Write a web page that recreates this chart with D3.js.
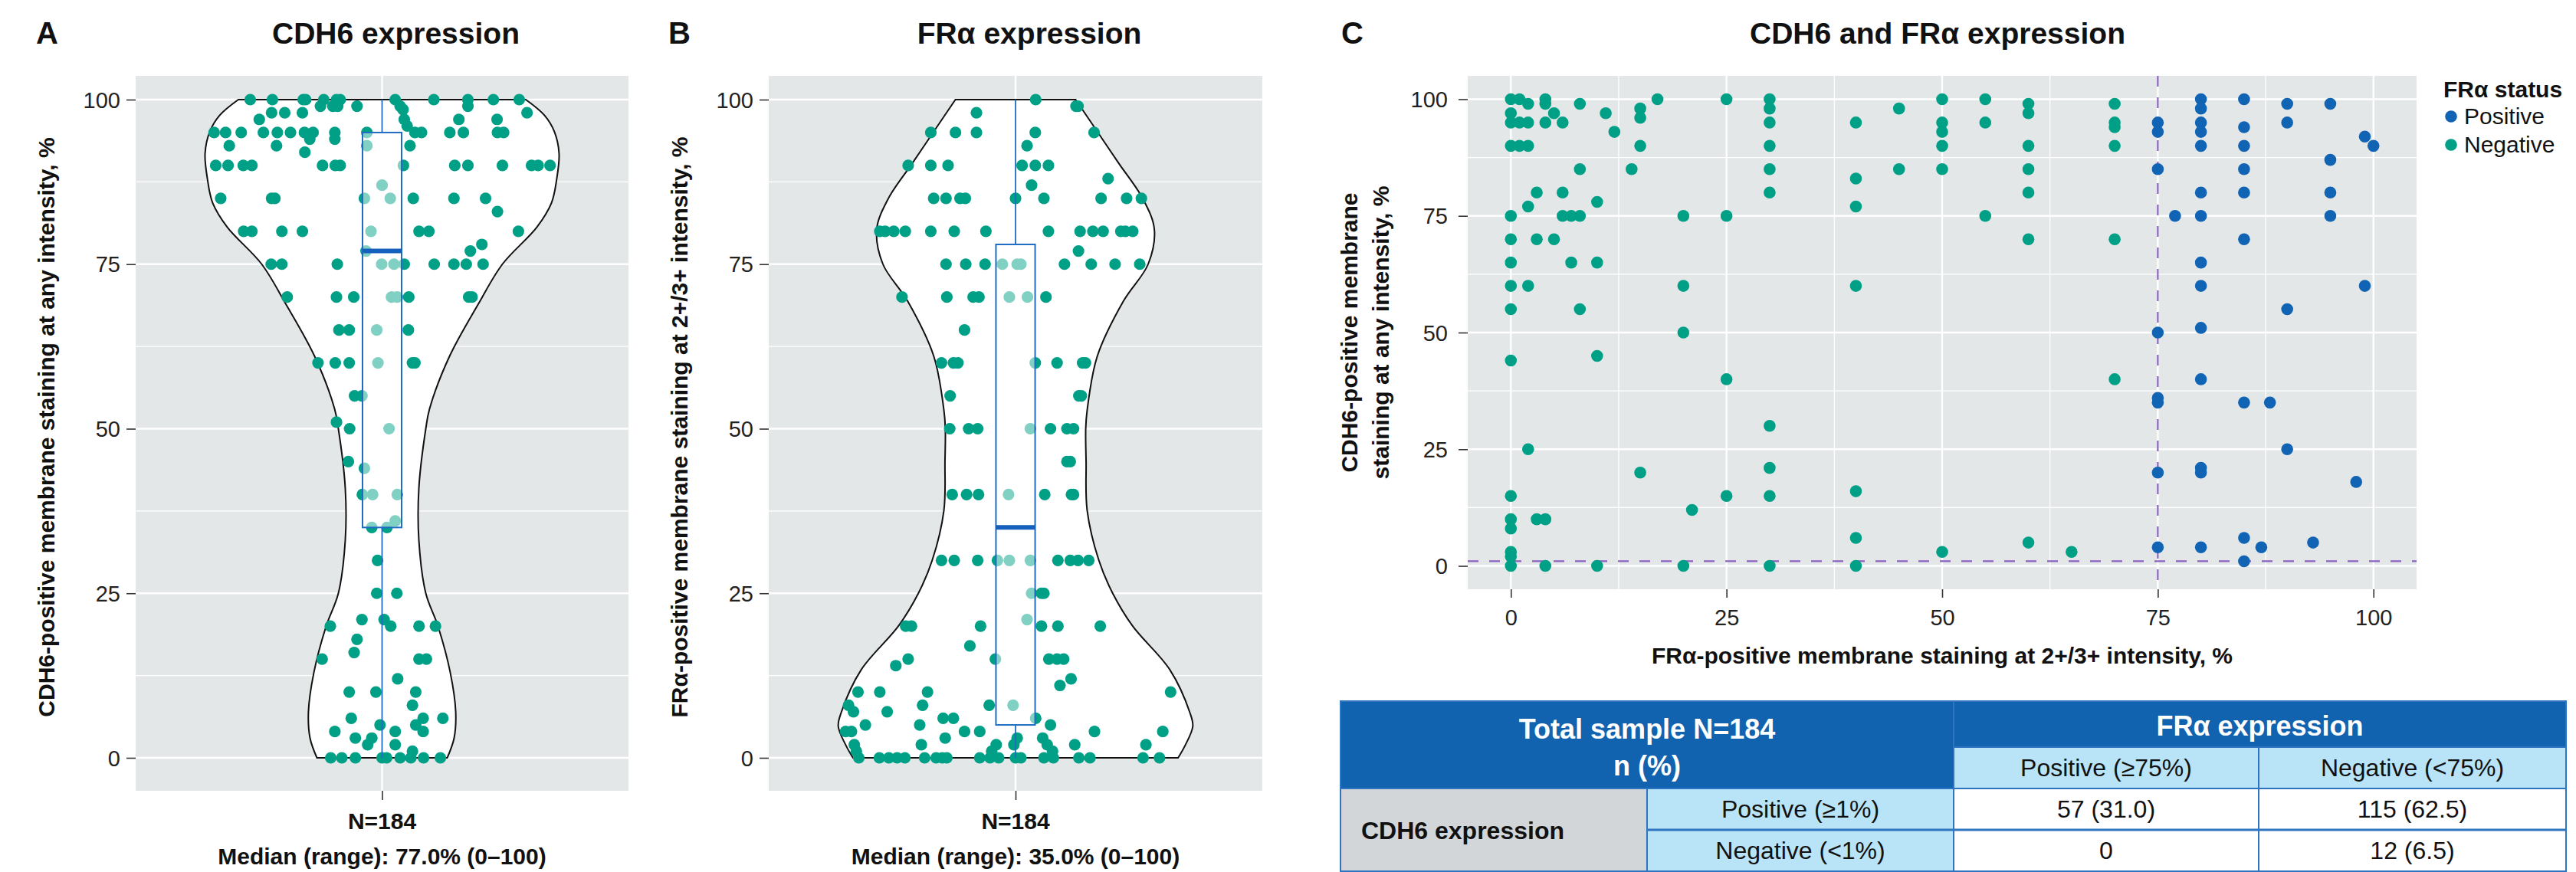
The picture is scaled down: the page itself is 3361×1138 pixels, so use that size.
<!DOCTYPE html>
<html><head><meta charset="utf-8">
<script src="https://cdn.jsdelivr.net/npm/d3@7"></script>
<style>
body{margin:0;background:#fff}
svg{display:block}
text{font-family:"Liberation Sans",Arial,Helvetica,sans-serif}
</style>
</head><body>
<svg id="chart" width="3361" height="1138"></svg>
<script>
// ---------------- DATA ----------------
const yTicks = [0, 25, 50, 75, 100];
const yMinor = [12.5, 37.5, 62.5, 87.5];
const xTicksC = [0, 25, 50, 75, 100];
const xMinorC = [12.5, 37.5, 62.5, 87.5];

// violin outlines: [value, relative half-width]
const cdh6Density = [[0,0.368],[3,0.407],[7,0.416],[13,0.385],[20,0.316],[25,0.247],[33,0.208],[41,0.208],[50,0.247],[53,0.268],[61,0.381],[69,0.545],[75,0.680],[80.6,0.874],[84.3,0.957],[88,0.987],[91.8,1.0],[95.1,0.974],[97.6,0.918],[100,0.812]];
const fraDensity = [[0,0.917],[1.9,0.957],[4.8,1.0],[6.9,0.983],[13.4,0.870],[20,0.661],[25,0.548],[30,0.47],[37.6,0.404],[45,0.398],[50,0.396],[52.8,0.404],[61,0.461],[69.4,0.609],[75,0.748],[80.3,0.783],[85,0.717],[90.3,0.583],[95,0.465],[100,0.339]];

// box stats: [min, q1, median, q3, max]
const cdh6Stats = [0, 35, 77, 95, 100];
const fraStats = [0, 5, 35, 78, 100];

// jittered points: [jitter, value]
const cdh6Points = [[-0.321,100],[-0.267,100],[-0.192,100],[-0.186,100],[-0.142,100],[-0.111,100],[-0.102,100],[0.032,100],[0.126,100],[0.209,100],[0.271,100],[0.334,100],
[-0.150,99],[-0.120,99],[-0.108,99],[-0.061,99],[0.044,99],[0.051,98.5],[0.209,99],
[-0.269,98],[-0.237,98],[-0.194,98],[0.353,98],
[-0.299,97],[0.054,97],[0.187,97],[0.280,97],[0.061,96],
[-0.409,95],[-0.381,95],[-0.343,95],[-0.289,95],[-0.255,95],[-0.223,95],[-0.189,95],[-0.168,95],[-0.115,95],[-0.037,95],[0.080,95],[0.096,95],[0.165,95],[0.198,95],[0.281,95],[0.296,95],
[-0.176,94],[-0.115,94],[-0.372,93],[-0.257,93],[-0.037,93],[0.068,93],[-0.188,92],
[-0.405,90],[-0.375,90],[-0.338,90],[-0.317,90],[-0.145,90],[-0.114,90],[-0.102,90],[0.052,90],[0.177,90],[0.209,90],[0.293,90],[0.364,90],[0.380,90],[0.409,90],
[0,87],
[-0.393,85],[-0.269,85],[-0.261,85],[-0.043,85],[0.020,85],[0.076,85],[0.175,85],[0.252,85],
[0.281,83],
[-0.337,80],[-0.317,80],[-0.244,80],[-0.194,80],[-0.027,80],[0.090,80],[0.114,80],[0.332,80],
[0.243,78],[0.215,77],[-0.039,77],
[-0.270,75],[-0.244,75],[-0.109,75],[-0.001,75],[0.029,75],[0.054,75],[0.127,75],[0.175,75],[0.205,75],[0.246,75],
[-0.231,70],[-0.111,70],[-0.069,70],[0.023,70],[0.037,70],[0.065,70],[0.211,70],[0.219,70],
[-0.105,65],[-0.080,65],[-0.013,65],[0.064,65],
[-0.156,60],[-0.114,60],[-0.080,60],[-0.010,60],[0.074,60],[0.080,60],
[-0.067,55],[-0.049,55],[-0.111,51],[-0.079,50],[0.017,50],
[-0.082,45],[-0.043,44],
[-0.048,40],[-0.023,40],[0.037,40],
[0.032,36],[-0.025,35],[0.012,35],
[-0.011,30],[-0.013,25],[0.036,25],
[-0.049,21],[0.005,21],
[-0.126,20],[0.021,20],[0.090,20],[0.130,20],
[-0.061,18],[-0.068,16],
[-0.146,15],[0.090,15],[0.108,15],
[0.038,12],
[-0.080,10],[-0.015,10],[0.082,10],
[0.074,8],
[-0.075,6],[0.100,6],[0.148,6],
[-0.005,5],[0.082,5],
[-0.115,4],[0.032,4],[0.100,4],
[-0.065,3],[-0.025,3],
[-0.035,2],[0.032,2],[0.074,1],
[-0.125,0],[-0.098,0],[-0.065,0],[0,0],[0.011,0],[0.044,0],[0.070,0],[0.101,0],[0.142,0]];

const fraPoints = [[0.049,100],[0.147,99],[0.152,99],[-0.095,98],
[-0.206,95],[-0.146,95],[-0.095,95],[0.048,95],[0.191,95],
[0.028,93],
[-0.261,90],[-0.206,90],[-0.164,90],[0.016,90],[0.048,90],[0.080,90],
[0.225,88],[0.039,87],
[-0.199,85],[-0.169,85],[-0.135,85],[-0.122,85],[0,85],[0.069,85],[0.208,85],[0.270,85],[0.306,85],
[-0.330,80],[-0.317,80],[-0.296,80],[-0.268,80],[-0.206,80],[-0.149,80],[-0.072,80],[0.080,80],[0.157,80],[0.188,80],[0.213,80],[0.256,80],[0.267,80],[0.285,80],
[0.153,77],
[-0.169,75],[-0.121,75],[-0.074,75],[-0.032,75],[0.004,75],[0.013,75],[0.119,75],[0.184,75],[0.242,75],[0.302,75],
[-0.276,70],[-0.167,70],[-0.103,70],[-0.089,70],[-0.015,70],[0.029,70],[0.074,70],
[-0.124,65],
[-0.180,60],[-0.151,60],[-0.140,60],[0.048,60],[0.101,60],[0.163,60],[0.170,60],
[-0.159,55],[0.154,55],[0.160,55],
[-0.160,50],[-0.114,50],[-0.092,50],[0.036,50],[0.085,50],[0.125,50],[0.141,50],
[0.125,45],[0.133,45],
[-0.154,40],[-0.119,40],[-0.090,40],[-0.017,40],[0.071,40],[0.136,40],[0.141,40],
[-0.180,30],[-0.149,30],[-0.092,30],[-0.044,30],[-0.015,30],[0.036,30],[0.103,30],[0.133,30],[0.152,30],[0.178,30],
[0.039,25],[0.063,25],[0.069,25],
[0.028,21],
[-0.267,20],[-0.253,20],[-0.085,20],[0.063,20],[0.103,20],[0.206,20],
[-0.111,17],
[-0.261,15],[-0.049,15],[0.081,15],[0.101,15],[0.117,15],
[-0.291,14],[0.135,12],[0.108,11],
[-0.383,10],[-0.330,10],[-0.214,10],[0.377,10],
[-0.406,8],[-0.226,8],[-0.064,8],[-0.006,8],
[-0.394,7],[-0.312,7],
[-0.176,6],[-0.151,6],[0.049,6],
[-0.365,5],[-0.233,5],[0.085,5],
[-0.413,4],[-0.399,4],[-0.124,4],[-0.087,4],[0.192,4],[0.358,4],
[-0.171,3],[0.004,3],[0.066,3],
[-0.392,2],[-0.229,2],[-0.047,2],[-0.004,2],[0.077,2],[0.144,2],[0.317,2],
[-0.387,1],[-0.058,1],[0.090,1],
[-0.381,0],[-0.331,0],[-0.308,0],[-0.288,0],[-0.269,0],[-0.221,0],[-0.193,0],[-0.178,0],[-0.167,0],[-0.087,0],[-0.062,0],[-0.041,0],[0,0],[0.013,0],[0.069,0],[0.092,0],[0.154,0],[0.181,0],[0.310,0],[0.350,0]];

// scatter: [FRα %, CDH6 %]
const fraNegative = [[0,100],[0,97],[0,95],[0,90],[0,75],[0,70],[0,65],[0,60],[0,55],[0,44],[0,15],[0,10],[0,8],[0,3],[0,2],[0,0],
[1,100],[1,95],[1,90],
[2,99],[2,95],[2,90],[2,77],[2,60],[2,25],
[3,80],[3,70],[3,10],
[4,100],[4,99],[4,95],[4,10],[4,0],
[5,97],[5,70],
[6,95],[6,80],[6,75],
[7,75],[7,65],
[8,99],[8,85],[8,75],[8,55],
[10,78],[10,65],[10,45],[10,0],
[11,97],[12,93],[14,85],
[15,98],[15,96],[15,90],[15,20],
[17,100],
[20,75],[20,60],[20,50],[20,0],[21,12],
[25,100],[25,75],[25,40],[25,15],
[30,100],[30,98],[30,95],[30,90],[30,85],[30,80],[30,30],[30,21],[30,15],[30,0],
[40,95],[40,83],[40,77],[40,60],[40,16],[40,6],[40,0],
[45,98],[45,85],
[50,100],[50,95],[50,93],[50,90],[50,85],[50,3],
[55,100],[55,95],[55,75],
[60,99],[60,97],[60,90],[60,85],[60,80],[60,70],[60,5],
[65,3],
[70,99],[70,95],[70,94],[70,90],[70,70],[70,40]];
const fraPositive = [[75,95],[75,93],[75,85],[75,50],[75,36],[75,35],[75,20],[75,4],
[77,75],
[80,100],[80,98],[80,95],[80,93],[80,90],[80,80],[80,75],[80,65],[80,60],[80,51],[80,40],[80,21],[80,20],[80,4],
[85,100],[85,94],[85,90],[85,85],[85,80],[85,70],[85,35],[85,6],[85,1],
[87,4],[88,35],
[90,99],[90,95],[90,55],[90,25],
[93,5],
[95,99],[95,87],[95,80],[95,75],
[98,18],
[99,92],[99,60],
[100,90]];
const fraCutoff = 75;
const cdh6Cutoff = 1;

const legendLabels = ["Positive", "Negative"];

// table
const tableHeader = ["Total sample N=184", "n (%)", "FRα expression"];
const tableColHeads = ["Positive (≥75%)", "Negative (<75%)"];
const tableRowGroup = "CDH6 expression";
const tableRowHeads = ["Positive (≥1%)", "Negative (<1%)"];
const tableValues = [["57 (31.0)", "115 (62.5)"], ["0", "12 (6.5)"]];

// ---------------- STYLE ----------------
const TEAL = "#00a087", BLUE = "#1163b3", BOXBLUE = "#1f6cc4";
const PANEL = "#e4e7e8", PURPLE = "#8a62bf";
const FONT = '"Liberation Sans",Arial,Helvetica,sans-serif';

const svg = d3.select("#chart");

function txt(g, x, y, s, opt = {}) {
  return g.append("text").attr("x", x).attr("y", y).text(s)
    .attr("font-size", opt.size || 29)
    .attr("font-weight", opt.bold ? "bold" : "normal")
    .attr("fill", opt.fill || "#111")
    .attr("text-anchor", opt.anchor || "middle");
}

// ---------------- VIOLIN PANELS ----------------
function violinPanel(cfg) {
  const g = svg.append("g");
  const x = d3.scaleLinear().domain([0.4, 1.6]).range([cfg.left, cfg.right]);
  const y = d3.scaleLinear().domain([0, 100]).range([989, 130]);
  const top = 99, bottom = 1032;
  g.append("rect").attr("x", cfg.left).attr("y", top).attr("width", cfg.right - cfg.left)
    .attr("height", bottom - top).attr("fill", PANEL);
  g.selectAll(".mn").data(yMinor).join("line")
    .attr("x1", cfg.left).attr("x2", cfg.right).attr("y1", d => y(d)).attr("y2", d => y(d))
    .attr("stroke", "#fff").attr("stroke-width", 1.3);
  g.selectAll(".mj").data(yTicks).join("line")
    .attr("x1", cfg.left).attr("x2", cfg.right).attr("y1", d => y(d)).attr("y2", d => y(d))
    .attr("stroke", "#fff").attr("stroke-width", 2.4);
  g.append("line").attr("x1", x(1)).attr("x2", x(1)).attr("y1", top).attr("y2", bottom)
    .attr("stroke", "#fff").attr("stroke-width", 2.4);

  // axes
  const ya = d3.axisLeft(y).tickValues(yTicks).tickSize(12).tickPadding(8);
  const yg = g.append("g").attr("transform", `translate(${cfg.left},0)`).call(ya);
  yg.select(".domain").remove();
  yg.selectAll("line").attr("stroke", "#333").attr("stroke-width", 1.6);
  yg.selectAll("text").attr("font-size", 29).attr("fill", "#222").attr("font-family", FONT).attr("dy", "0.35em");
  const xa = d3.axisBottom(x).tickValues([1]).tickSize(12).tickFormat(() => "");
  const xg = g.append("g").attr("transform", `translate(0,${bottom})`).call(xa);
  xg.select(".domain").remove();
  xg.selectAll("line").attr("stroke", "#333").attr("stroke-width", 1.6);

  // violin
  const hw = 0.431;
  const area = d3.area().curve(d3.curveCatmullRom.alpha(0.5))
    .y(d => y(d[0])).x0(d => x(1 - d[1] * hw)).x1(d => x(1 + d[1] * hw));
  g.append("path").attr("d", area(cfg.density)).attr("fill", "#fff")
    .attr("stroke", "#111").attr("stroke-width", 2);

  // points
  g.selectAll(".pt").data(cfg.points).join("circle")
    .attr("cx", d => x(1 + d[0])).attr("cy", d => y(d[1])).attr("r", 7.6).attr("fill", TEAL);

  // box
  const [mn, q1, md, q3, mx] = cfg.stats;
  const bw = 0.0476;
  g.append("line").attr("x1", x(1)).attr("x2", x(1)).attr("y1", y(q3)).attr("y2", y(mx))
    .attr("stroke", BOXBLUE).attr("stroke-width", 1.8);
  g.append("line").attr("x1", x(1)).attr("x2", x(1)).attr("y1", y(q1)).attr("y2", y(mn))
    .attr("stroke", BOXBLUE).attr("stroke-width", 1.8);
  g.append("rect").attr("x", x(1 - bw)).attr("width", x(1 + bw) - x(1 - bw))
    .attr("y", y(q3)).attr("height", y(q1) - y(q3))
    .attr("fill", "#fff").attr("fill-opacity", 0.5).attr("stroke", BOXBLUE).attr("stroke-width", 2);
  g.append("line").attr("x1", x(1 - bw)).attr("x2", x(1 + bw)).attr("y1", y(md)).attr("y2", y(md))
    .attr("stroke", "#1560bd").attr("stroke-width", 6);

  // texts
  txt(g, cfg.labelX, 57, cfg.letter, {size: 40, bold: true, anchor: "start"});
  txt(g, x(1) + 18, 57, cfg.title, {size: 39, bold: true});
  txt(g, x(1), 1082, "N=184", {size: 30, bold: true});
  txt(g, x(1), 1128, cfg.median, {size: 30, bold: true});
  g.append("text").attr("transform", `translate(${cfg.titleX},${(top + bottom) / 2 - 8}) rotate(-90)`)
    .attr("text-anchor", "middle").attr("font-size", 30).attr("font-weight", "bold").attr("fill", "#111")
    .text(cfg.ytitle);
}

violinPanel({left: 177, right: 820, density: cdh6Density, points: cdh6Points, stats: cdh6Stats,
  letter: "A", labelX: 47, title: "CDH6 expression", median: "Median (range): 77.0% (0–100)",
  ytitle: "CDH6-positive membrane staining at any intensity, %", titleX: 71});
violinPanel({left: 1003, right: 1647, density: fraDensity, points: fraPoints, stats: fraStats,
  letter: "B", labelX: 872, title: "FRα expression", median: "Median (range): 35.0% (0–100)",
  ytitle: "FRα-positive membrane staining at 2+/3+ intensity, %", titleX: 897});

// ---------------- SCATTER PANEL ----------------
(function () {
  const g = svg.append("g");
  const L = 1915, R = 3153, T = 99, B = 769;
  const x = d3.scaleLinear().domain([-5, 105]).range([L, R]);
  const y = d3.scaleLinear().domain([-5, 105]).range([B, T]);
  g.append("rect").attr("x", L).attr("y", T).attr("width", R - L).attr("height", B - T).attr("fill", PANEL);
  g.selectAll(".hm").data(yMinor).join("line").attr("x1", L).attr("x2", R)
    .attr("y1", d => y(d)).attr("y2", d => y(d)).attr("stroke", "#fff").attr("stroke-width", 1.3);
  g.selectAll(".vm").data(xMinorC).join("line").attr("y1", T).attr("y2", B)
    .attr("x1", d => x(d)).attr("x2", d => x(d)).attr("stroke", "#fff").attr("stroke-width", 1.3);
  g.selectAll(".hM").data(yTicks).join("line").attr("x1", L).attr("x2", R)
    .attr("y1", d => y(d)).attr("y2", d => y(d)).attr("stroke", "#fff").attr("stroke-width", 2.4);
  g.selectAll(".vM").data(xTicksC).join("line").attr("y1", T).attr("y2", B)
    .attr("x1", d => x(d)).attr("x2", d => x(d)).attr("stroke", "#fff").attr("stroke-width", 2.4);

  const ya = d3.axisLeft(y).tickValues(yTicks).tickSize(12).tickPadding(14);
  const yg = g.append("g").attr("transform", `translate(${L},0)`).call(ya);
  yg.select(".domain").remove();
  yg.selectAll("line").attr("stroke", "#333").attr("stroke-width", 1.6);
  yg.selectAll("text").attr("font-size", 29).attr("fill", "#222").attr("font-family", FONT).attr("dy", "0.35em");
  const xa = d3.axisBottom(x).tickValues(xTicksC).tickSize(11).tickPadding(10);
  const xg = g.append("g").attr("transform", `translate(0,${B})`).call(xa);
  xg.select(".domain").remove();
  xg.selectAll("line").attr("stroke", "#333").attr("stroke-width", 1.6);
  xg.selectAll("text").attr("font-size", 29).attr("fill", "#222").attr("font-family", FONT).attr("dy", "0.9em");

  // cut-off lines
  g.append("line").attr("x1", x(fraCutoff)).attr("x2", x(fraCutoff)).attr("y1", T).attr("y2", B)
    .attr("stroke", PURPLE).attr("stroke-width", 2.2).attr("stroke-dasharray", "14 14");
  g.append("line").attr("x1", L).attr("x2", R).attr("y1", y(cdh6Cutoff)).attr("y2", y(cdh6Cutoff))
    .attr("stroke", PURPLE).attr("stroke-width", 2.2).attr("stroke-dasharray", "14 14");

  g.selectAll(".neg").data(fraNegative).join("circle")
    .attr("cx", d => x(d[0])).attr("cy", d => y(d[1])).attr("r", 7.8).attr("fill", TEAL);
  g.selectAll(".pos").data(fraPositive).join("circle")
    .attr("cx", d => x(d[0])).attr("cy", d => y(d[1])).attr("r", 7.8).attr("fill", BLUE);

  txt(g, 1750, 57, "C", {size: 40, bold: true, anchor: "start"});
  txt(g, 2528, 57, "CDH6 and FRα expression", {size: 39, bold: true});
  txt(g, (L + R) / 2, 866, "FRα-positive membrane staining at 2+/3+ intensity, %", {size: 30, bold: true});
  const yt = g.append("text").attr("transform", `translate(1771,${(T + B) / 2}) rotate(-90)`)
    .attr("text-anchor", "middle").attr("font-size", 30).attr("font-weight", "bold").attr("fill", "#111");
  yt.append("tspan").attr("x", 0).attr("dy", 0).text("CDH6-positive membrane");
  yt.append("tspan").attr("x", 0).attr("dy", 41).text("staining at any intensity, %");

  // legend
  txt(g, 3188, 127, "FRα status", {size: 30, bold: true, anchor: "start"});
  const lg = g.selectAll(".lg").data(legendLabels).join("g")
    .attr("transform", (d, i) => `translate(3198,${152 + i * 37})`);
  lg.append("circle").attr("r", 7.8).attr("fill", (d, i) => i === 0 ? BLUE : TEAL);
  lg.append("text").attr("x", 17).attr("y", 10).attr("font-size", 30).attr("fill", "#111").text(d => d);
})();

// ---------------- TABLE ----------------
(function () {
  const g = svg.append("g");
  const cx = [1749, 2149, 2549, 2947, 3348];
  const ry = [915, 975, 1029, 1083, 1137];
  const DARK = "#1163b0", LIGHT = "#b9e4f7", GRAY = "#d3d6d9", LINE = "#2f74c0";
  const rect = (x0, y0, x1, y1, fill) => g.append("rect").attr("x", x0).attr("y", y0)
    .attr("width", x1 - x0).attr("height", y1 - y0).attr("fill", fill).attr("stroke", LINE).attr("stroke-width", 2);
  rect(cx[0], ry[0], cx[2], ry[2], DARK);
  rect(cx[2], ry[0], cx[4], ry[1], DARK);
  rect(cx[2], ry[1], cx[3], ry[2], LIGHT);
  rect(cx[3], ry[1], cx[4], ry[2], LIGHT);
  rect(cx[0], ry[2], cx[1], ry[4], GRAY);
  rect(cx[1], ry[2], cx[2], ry[3], LIGHT);
  rect(cx[1], ry[3], cx[2], ry[4], LIGHT);
  rect(cx[2], ry[2], cx[3], ry[3], "#fff");
  rect(cx[3], ry[2], cx[4], ry[3], "#fff");
  rect(cx[2], ry[3], cx[3], ry[4], "#fff");
  rect(cx[3], ry[3], cx[4], ry[4], "#fff");
  g.append("line").attr("x1", cx[1]).attr("x2", cx[4]).attr("y1", ry[3]).attr("y2", ry[3])
    .attr("stroke", LINE).attr("stroke-width", 3);

  const mid = (a, b) => (a + b) / 2;
  txt(g, mid(cx[0], cx[2]), 964, tableHeader[0], {size: 36, bold: true, fill: "#fff"});
  txt(g, mid(cx[0], cx[2]), 1012, tableHeader[1], {size: 36, bold: true, fill: "#fff"});
  txt(g, mid(cx[2], cx[4]), 960, tableHeader[2], {size: 36, bold: true, fill: "#fff"});
  tableColHeads.forEach((s, i) => txt(g, mid(cx[2 + i], cx[3 + i]), 1013, s, {size: 32}));
  txt(g, cx[0] + 27, 1095, tableRowGroup, {size: 32, bold: true, anchor: "start"});
  tableRowHeads.forEach((s, i) => txt(g, mid(cx[1], cx[2]), mid(ry[2 + i], ry[3 + i]) + 11, s, {size: 32}));
  tableValues.forEach((row, i) => row.forEach((s, j) =>
    txt(g, mid(cx[2 + j], cx[3 + j]), mid(ry[2 + i], ry[3 + i]) + 11, s, {size: 32})));
})();
</script>
</body></html>
